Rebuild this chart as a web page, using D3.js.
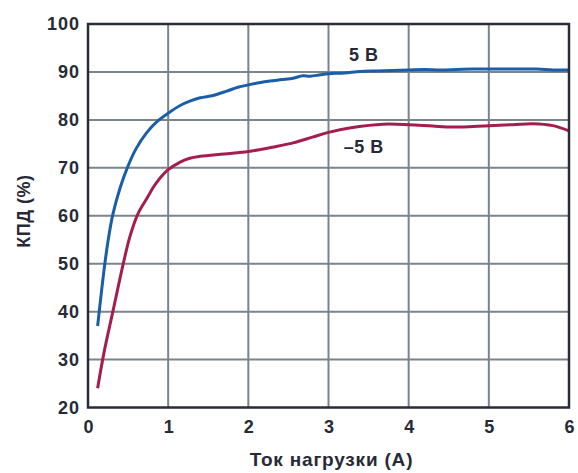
<!DOCTYPE html>
<html>
<head>
<meta charset="utf-8">
<script src="https://cdn.jsdelivr.net/npm/d3@7"></script>
<style>
  body { margin: 0; background: #fff; }
  svg { display: block; font-family: "Liberation Sans", Arial, sans-serif; font-weight: bold; }
</style>
</head>
<body>
<svg></svg>
<script>
const width = 578
const height = 473

// load current (A) vs efficiency (%)
const xTicks = [0, 1, 2, 3, 4, 5, 6]
const yTicks = [20, 30, 40, 50, 60, 70, 80, 90, 100]

const posX = [0.12, 0.16, 0.21, 0.26, 0.31, 0.4, 0.49, 0.6, 0.73, 0.85, 1.0, 1.15, 1.27, 1.4, 1.56, 1.73, 1.87, 2.0, 2.15, 2.27, 2.42, 2.56, 2.68, 2.77, 2.9, 3.0, 3.2, 3.4, 3.6, 3.8, 4.0, 4.2, 4.4, 4.6, 4.8, 5.0, 5.3, 5.6, 5.8, 6.0]
const posY = [37, 43, 50, 55.8, 60.3, 65.8, 70, 74, 77.3, 79.5, 81.4, 83, 83.9, 84.6, 85.1, 86, 86.8, 87.3, 87.8, 88.1, 88.4, 88.7, 89.2, 89.1, 89.4, 89.6, 89.8, 90.1, 90.2, 90.3, 90.4, 90.5, 90.4, 90.5, 90.6, 90.6, 90.6, 90.6, 90.4, 90.4]

const negX = [0.12, 0.2, 0.31, 0.44, 0.52, 0.62, 0.73, 0.85, 1.0, 1.15, 1.27, 1.4, 1.7, 2.0, 2.3, 2.56, 2.8, 3.0, 3.3, 3.68, 4.0, 4.3, 4.55, 5.0, 5.3, 5.55, 5.8, 6.0]
const negY = [24, 31.5, 40, 50, 55.5, 60.3, 63.5, 66.8, 69.6, 71.2, 72.0, 72.4, 72.9, 73.4, 74.3, 75.2, 76.4, 77.4, 78.4, 79.1, 79.0, 78.7, 78.5, 78.8, 79.0, 79.2, 78.8, 77.7]

const series = [
  { name: "5 В", xs: posX, ys: posY, color: "#1b5ea8", lx: 4.0, ly: 93.5 },
  { name: "–5 В", xs: negX, ys: negY, color: "#a51d4f", lx: 4.0, ly: 74.5 }
]

const margin = { top: 24, right: 9, bottom: 65.5, left: 88 }

const svg = d3.select("svg")
  .attr("width", width)
  .attr("height", height)

const x = d3.scaleLinear().domain([0, 6]).range([margin.left, width - margin.right])
const y = d3.scaleLinear().domain([20, 100]).range([height - margin.bottom, margin.top])

const grid = svg.append("g")
  .attr("stroke", "#7b838c")
  .attr("stroke-width", 2)

grid.selectAll(".vx")
  .data(xTicks.slice(1, -1))
  .enter()
  .append("line")
  .attr("x1", d => x(d)).attr("x2", d => x(d))
  .attr("y1", y(20)).attr("y2", y(100))

grid.selectAll(".hy")
  .data(yTicks.slice(1, -1))
  .enter()
  .append("line")
  .attr("x1", x(0)).attr("x2", x(6))
  .attr("y1", d => y(d)).attr("y2", d => y(d))

const line = d3.line()
  .x(d => x(d[0]))
  .y(d => y(d[1]))
  .curve(d3.curveCatmullRom.alpha(0.5))

series.forEach(s => {
  svg.append("path")
    .datum(s.xs.map((v, i) => [v, s.ys[i]]))
    .attr("fill", "none")
    .attr("stroke", s.color)
    .attr("stroke-width", 3)
    .attr("stroke-linejoin", "round")
    .attr("d", line)

  svg.append("text")
    .attr("x", x(s.lx) - 45)
    .attr("y", y(s.ly))
    .attr("dy", "0.35em")
    .attr("text-anchor", "middle")
    .attr("fill", "#262a36")
    .style("font-size", "18px")
    .style("letter-spacing", "0.5px")
    .text(s.name)
})

// frame
svg.append("rect")
  .attr("x", x(0)).attr("y", y(100))
  .attr("width", x(6) - x(0)).attr("height", y(20) - y(100))
  .attr("fill", "none")
  .attr("stroke", "#2a2d38")
  .attr("stroke-width", 2.5)

const xAxis = svg.append("g")
  .attr("transform", "translate(0," + y(20) + ")")
  .call(d3.axisBottom(x).tickValues(xTicks).tickSize(0).tickPadding(13).tickFormat(d3.format("d")))
xAxis.select(".domain").remove()
xAxis.selectAll("text")
  .attr("fill", "#262a36")
  .style("font-size", "18px")
  .style("font-family", "Liberation Sans, Arial, sans-serif")
  .style("font-weight", "bold")

const yAxis = svg.append("g")
  .attr("transform", "translate(" + x(0) + ",0)")
  .call(d3.axisLeft(y).tickValues(yTicks).tickSize(0).tickPadding(8).tickFormat(d3.format("d")))
yAxis.select(".domain").remove()
yAxis.selectAll("text")
  .attr("fill", "#262a36")
  .style("font-size", "18px")
  .style("letter-spacing", "1px")
  .style("font-family", "Liberation Sans, Arial, sans-serif")
  .style("font-weight", "bold")

svg.append("text")
  .attr("x", (x(0) + x(6)) / 2 + 3)
  .attr("y", 466)
  .attr("text-anchor", "middle")
  .attr("fill", "#262a36")
  .style("font-size", "19px")
  .style("letter-spacing", "0.8px")
  .text("Ток нагрузки (A)")

svg.append("text")
  .attr("transform", "translate(30,211) rotate(-90)")
  .attr("text-anchor", "middle")
  .attr("fill", "#262a36")
  .style("font-size", "18px")
  .style("letter-spacing", "0.5px")
  .text("КПД (%)")
</script>
</body>
</html>
